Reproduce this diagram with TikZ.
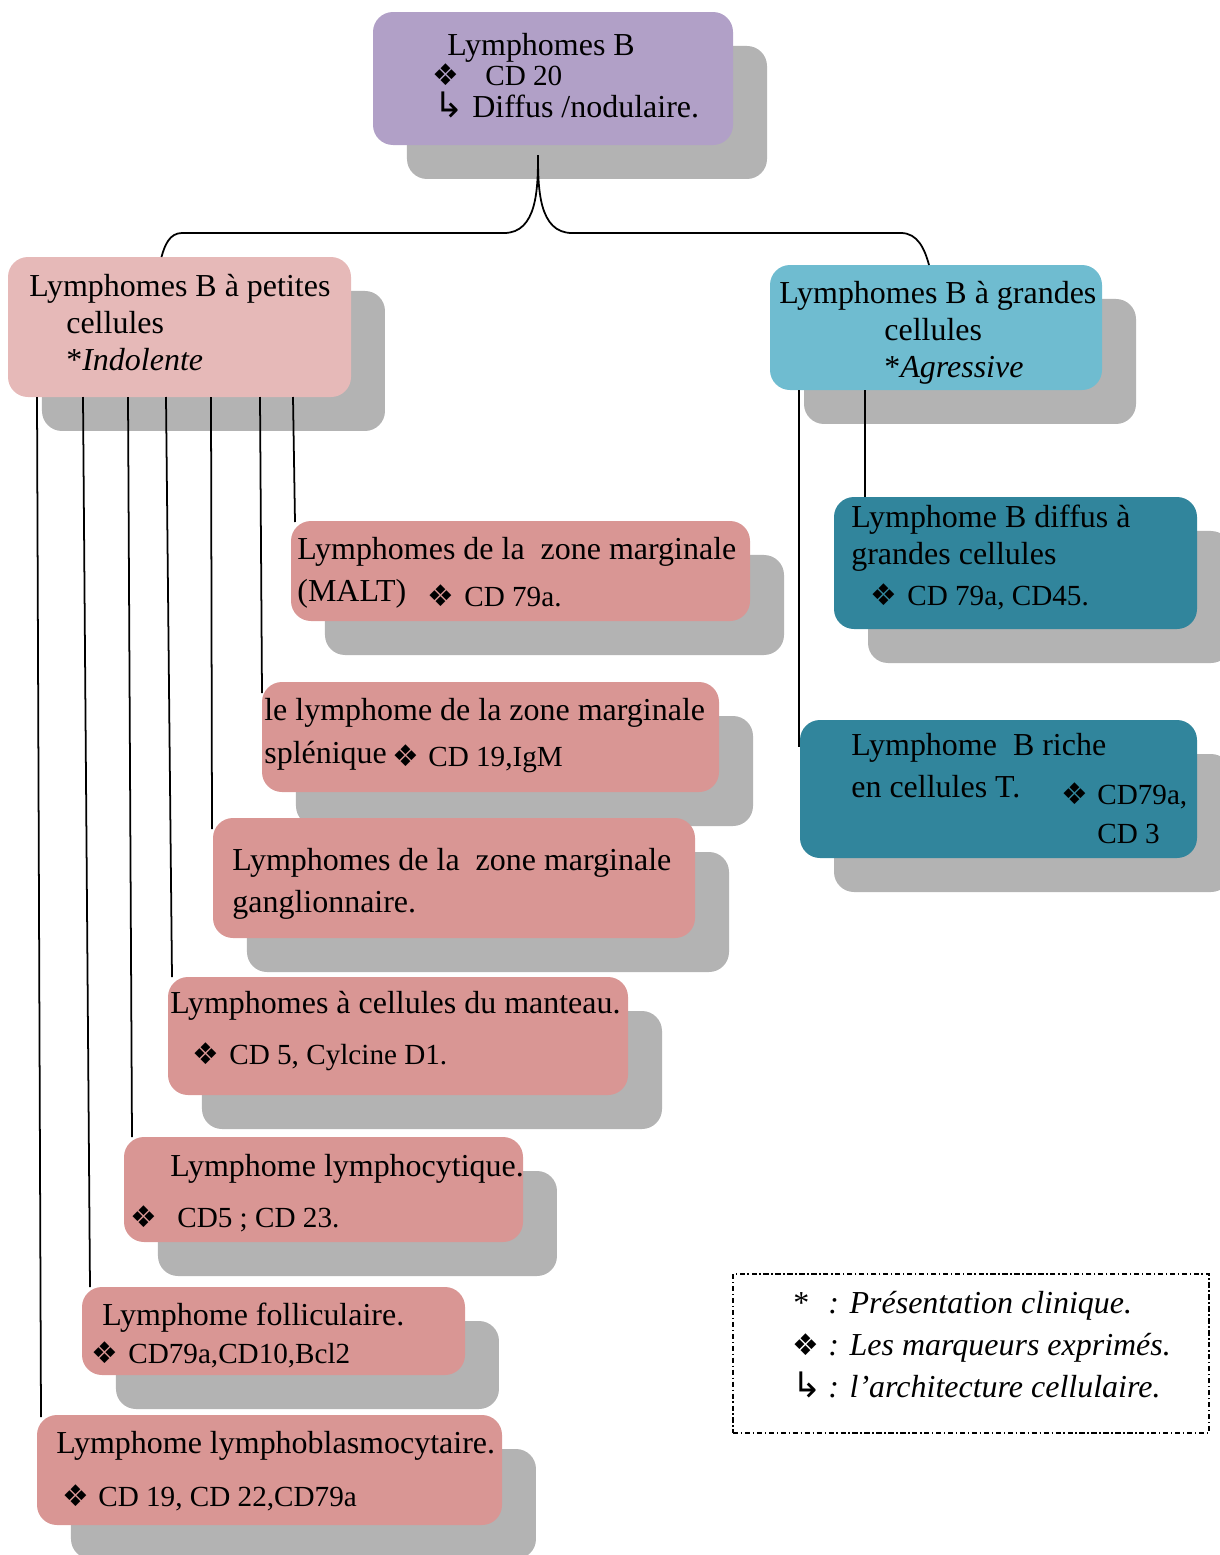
\documentclass[tikz,border=0pt]{standalone}
\usepackage{fontspec}
\setmainfont{Liberation Serif}
\newfontfamily\dejavu{DejaVu Sans}
\usetikzlibrary{fit,shadows}

\definecolor{lbpurple}{HTML}{B1A0C7}
\definecolor{shgray}{HTML}{B3B3B3}
\definecolor{smpink}{HTML}{E6B9B8}
\definecolor{subpink}{HTML}{D99694}
\definecolor{lgblue}{HTML}{6FBCD0}
\definecolor{subteal}{HTML}{31859C}

\newcommand{\mrk}{{\dejavu\fontsize{17}{17}\selectfont ❖}}
\newcommand{\archi}{{\dejavu\fontsize{20}{20}\selectfont ↳}}

\tikzset{
  box/.style={rounded corners=0.4cm, inner sep=0pt, outer sep=0pt, draw=none,
    drop shadow={shadow xshift=0.68cm, shadow yshift=-0.68cm, opacity=1, fill=shgray}},
  txt/.style={anchor=base west, inner sep=0pt, font=\fontsize{18.2}{21}\selectfont},
  mtxt/.style={txt, font=\fontsize{16.6}{20}\selectfont},
  conn/.style={line width=1pt},
}

\begin{document}
\begin{tikzpicture}[x=0.02cm, y=-0.02cm]
  \useasboundingbox (0,0) rectangle (1220,1555);
  \clip (0,0) rectangle (1220,1555);

  % ── Root: Lymphomes B ─────────────────────────────────────────
  \node[box, fill=lbpurple, fit={(373,12)(733,145)}] (lb) {};
  \node[txt]  (lbt)  at (447,55)  {Lymphomes B};
  \node[txt]  (lbm)  at (432,85)  {\mrk};
  \node[mtxt] (lbcd) at (485,85)  {CD 20};
  \node[txt]  (lba)  at (434,117) {\archi};
  \node[txt]  (lbd)  at (472,117) {Diffus /nodulaire.};

  % ── Level 1: petites / grandes cellules ───────────────────────
  \node[box, fill=smpink, fit={(8,257)(351,397)}] (sm) {};
  \node[txt] (smt1) at (29,296) {Lymphomes B à petites};
  \node[txt] (smt2) at (66,333) {cellules};
  \node[txt] (smt3) at (66,370) {*\textit{Indolente}};

  \node[box, fill=lgblue, fit={(770,265)(1102,390)}] (lg) {};
  \node[txt] (lgt1) at (779,303) {Lymphomes B à grandes};
  \node[txt] (lgt2) at (884,340) {cellules};
  \node[txt] (lgt3) at (884,377) {*\textit{Agressive}};

  % ── Small cell subtypes ───────────────────────────────────────
  \node[box, fill=subpink, fit={(291,521)(750,621)}] (malt) {};
  \node[txt]  (malt1) at (297,559) {Lymphomes de la\ \ zone marginale};
  \node[txt]  (malt2) at (297,601) {(MALT)};
  \node[txt]  (maltm) at (427,606) {\mrk};
  \node[mtxt] (malt3) at (464,606) {CD 79a.};

  \node[box, fill=subpink, fit={(262,682)(719,792)}] (spl) {};
  \node[txt]  (spl1) at (264,720) {le lymphome de la zone marginale};
  \node[txt]  (spl2) at (264,763) {splénique};
  \node[txt]  (splm) at (392,766) {\mrk};
  \node[mtxt] (spl3) at (428,766) {CD 19,IgM};

  \node[box, fill=subpink, fit={(213,818)(695,938)}] (gan) {};
  \node[txt] (gan1) at (232,870) {Lymphomes de la\ \ zone marginale};
  \node[txt] (gan2) at (232,912) {ganglionnaire.};

  \node[box, fill=subpink, fit={(168,977)(628,1095)}] (man) {};
  \node[txt]  (man1) at (170,1013) {Lymphomes à cellules du manteau.};
  \node[txt]  (manm) at (192,1064) {\mrk};
  \node[mtxt] (man2) at (229,1064) {CD 5, Cylcine D1.};

  \node[box, fill=subpink, fit={(124,1137)(523,1242)}] (lyc) {};
  \node[txt]  (lyc1) at (170,1176) {Lymphome lymphocytique.};
  \node[txt]  (lycm) at (130,1227) {\mrk};
  \node[mtxt] (lyc2) at (177,1227) {CD5 ; CD 23.};

  \node[box, fill=subpink, fit={(82,1287)(465,1375)}] (fol) {};
  \node[txt]  (fol1) at (102,1325) {Lymphome folliculaire.};
  \node[txt]  (folm) at (91,1363)  {\mrk};
  \node[mtxt] (fol2) at (128,1363) {CD79a,CD10,Bcl2};

  \node[box, fill=subpink, fit={(37,1415)(502,1525)}] (lbl) {};
  \node[txt]  (lbl1) at (56,1453) {Lymphome lymphoblasmocytaire.};
  \node[txt]  (lblm) at (62,1506) {\mrk};
  \node[mtxt] (lbl2) at (98,1506) {CD 19, CD 22,CD79a};

  % ── Large cell subtypes ───────────────────────────────────────
  \node[box, fill=subteal, fit={(834,497)(1197,629)}] (dgc) {};
  \node[txt]  (dgc1) at (851,527) {Lymphome B diffus à};
  \node[txt]  (dgc2) at (851,564) {grandes cellules};
  \node[txt]  (dgcm) at (870,605) {\mrk};
  \node[mtxt] (dgc3) at (907,605) {CD 79a, CD45.};

  \node[box, fill=subteal, fit={(800,720)(1197,858)}] (rich) {};
  \node[txt]  (rich1) at (851,755)  {Lymphome\ \ B riche};
  \node[txt]  (rich2) at (851,797)  {en cellules T.};
  \node[txt]  (richm) at (1061,804) {\mrk};
  \node[mtxt] (rich3) at (1097,804) {CD79a,};
  \node[mtxt] (rich4) at (1097,843) {CD 3};

  % ── Legend ────────────────────────────────────────────────────
  \node[fit={(733,1274)(1209,1433)}, inner sep=0pt, draw, line width=0.6pt,
        dash pattern=on 3pt off 1.5pt on 0.8pt off 1.5pt] (key) {};
  \node[txt] (key1s) at (793,1313) {*};
  \node[txt] (key1)  at (828,1313) {\textit{: Présentation clinique.}};
  \node[txt] (key2s) at (792,1355) {\mrk};
  \node[txt] (key2)  at (828,1355) {\textit{: Les marqueurs exprimés.}};
  \node[txt] (key3s) at (792,1397) {\archi};
  \node[txt] (key3)  at (828,1397) {\textit{: l’architecture cellulaire.}};

  % ── Connectors ───────────────────────────────────────────────
  \coordinate (split) at (538,155);
  \draw[conn] (split) to[out=-90, in=0] (504,233) -- (182,233)
              to[out=180, in=75] ([shift={(-18,0)}]sm.north);
  \draw[conn] (split) to[out=-90, in=180] (572,233) -- (901,233)
              to[out=0, in=105] ([shift={(-7,0)}]lg.north);

  % petites cellules -> subtypes
  \draw[conn] ([shift={(29,0)}]sm.south west)  -- ([shift={(4,2)}]lbl.north west);
  \draw[conn] ([shift={(75,0)}]sm.south west)  -- ([shift={(8,0)}]fol.north west);
  \draw[conn] ([shift={(120,0)}]sm.south west) -- ([shift={(8,0)}]lyc.north west);
  \draw[conn] ([shift={(158,0)}]sm.south west) -- ([shift={(4,0)}]man.north west);
  \draw[conn] ([shift={(203,0)}]sm.south west) -- ([shift={(-1,11)}]gan.north west);
  \draw[conn] ([shift={(252,0)}]sm.south west) -- ([shift={(0,11)}]spl.north west);
  \draw[conn] ([shift={(285,0)}]sm.south west) -- ([shift={(4,1)}]malt.north west);

  % grandes cellules -> subtypes
  \draw[conn] ([shift={(29,0)}]lg.south west) -- ([shift={(-1,27)}]rich.north west);
  \draw[conn] ([shift={(95,0)}]lg.south west) -- ([shift={(31,0)}]dgc.north west);

\end{tikzpicture}
\end{document}
